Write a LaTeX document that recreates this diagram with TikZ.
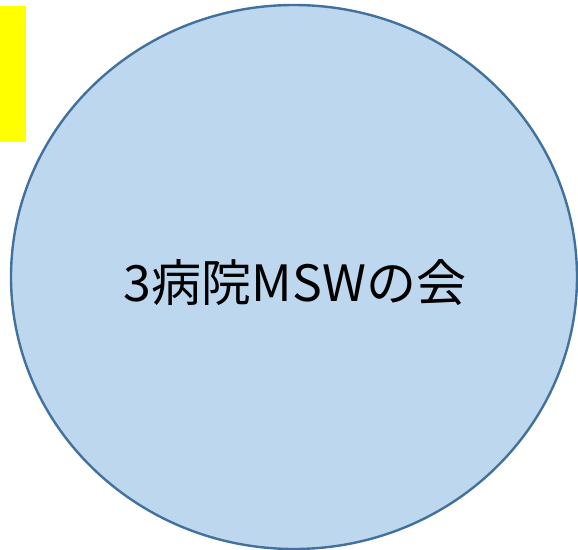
\documentclass[tikz,border=0pt]{standalone}
\usepackage{fontspec}
\newfontfamily\jpfont{Noto Sans CJK JP}
\definecolor{circfill}{HTML}{BDD7EE}
\definecolor{circline}{HTML}{41719C}
\definecolor{notefill}{HTML}{FFFF00}
\begin{document}
\begin{tikzpicture}
          [x=1pt,y=-1pt,
           meeting/.style={draw=circline, fill=circfill, line width=2.4pt},
           every node/.style={inner sep=0pt}]
        \useasboundingbox (0,0) rectangle (578,549);
        \fill[notefill] (0,6) rectangle (25.5,141.5);
        \draw[meeting] (294,277) ellipse [x radius=283, y radius=272];
        \node (msw) at (295,283) {\jpfont\fontsize{50}{60}\selectfont 3病院MSWの会};
      \end{tikzpicture}
\end{document}
